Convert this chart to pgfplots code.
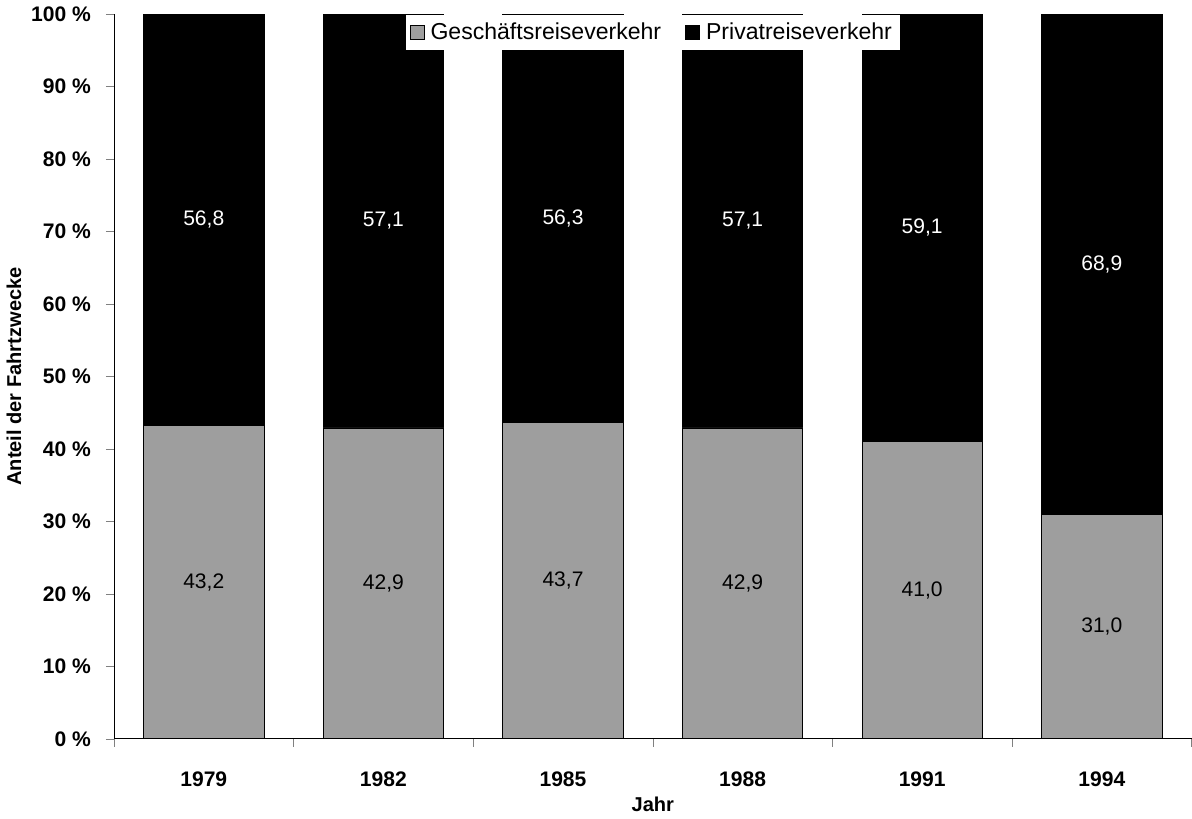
\documentclass[border=0pt]{standalone}
\usepackage{pgfplots}
\pgfplotsset{compat=1.18}
\usepackage{fontspec}
\setmainfont{Liberation Sans}

\definecolor{geschaeft}{gray}{0.62}

\pgfplotsset{
  frame/.style={
    scale only axis,
    width=537.5pt, height=361.5pt,
    xmin=-0.5, xmax=5.5,
    ymin=0, ymax=100,
  }
}

\begin{document}
\begin{tikzpicture}
  \begin{axis}[
      frame,
      ybar stacked,
      bar width=0.67,
      axis x line*=bottom,
      axis y line*=left,
      tick align=outside,
      major tick length=4pt,
      xtick={-0.5,0.5,...,5.5},
      x tick label as interval,
      xticklabels={1979,1982,1985,1988,1991,1994},
      xticklabel style={yshift=-9pt},
      ytick={0,10,...,100},
      yticklabel={\pgfmathprintnumber{\tick}~\%},
      /pgf/number format/assume math mode=true,
      yticklabel style={xshift=-4pt},
      tick label style={font=\fontsize{10.5}{12}\selectfont\bfseries},
      xlabel={Jahr},
      ylabel={Anteil der Fahrtzwecke},
      label style={font=\fontsize{10}{12}\selectfont\bfseries},
      ylabel style={yshift=-2pt},
      xlabel style={yshift=2pt},
      legend image code/.code={\draw[#1] (0pt,-3.5pt) rectangle (7pt,3.5pt);},
      legend columns=2,
      legend style={at={(0.5,1.0)}, anchor=north, draw=none, fill=white,
        font=\fontsize{11.5}{13}\selectfont, inner sep=2pt,
        /tikz/every odd column/.append style={column sep=1pt},
        /tikz/every even column/.append style={column sep=10pt}},
    ]
    \addplot[fill=geschaeft, draw=black, line width=0.4pt]
      coordinates {(0,43.2) (1,42.9) (2,43.7) (3,42.9) (4,41.0) (5,31.0)};
    \addlegendentry{Geschäftsreiseverkehr}
    \addplot[fill=black, draw=black]
      coordinates {(0,56.8) (1,57.1) (2,56.3) (3,57.1) (4,59.1) (5,68.9)};
    \addlegendentry{Privatreiseverkehr}
  \end{axis}
  % value labels, centred in each segment
  \begin{axis}[
      frame,
      hide axis,
      nodes near coords,
      point meta=explicit symbolic,
      every node near coord/.append style={anchor=center, font=\fontsize{10.5}{12}\selectfont},
    ]
    \addplot[only marks, mark=none, nodes near coords style={black}]
      coordinates {(0,21.6) [43,2] (1,21.45) [42,9] (2,21.85) [43,7]
                   (3,21.45) [42,9] (4,20.5) [41,0] (5,15.5) [31,0]};
    \addplot[only marks, mark=none, nodes near coords style={white}]
      coordinates {(0,71.6) [56,8] (1,71.45) [57,1] (2,71.85) [56,3]
                   (3,71.45) [57,1] (4,70.55) [59,1] (5,65.45) [68,9]};
  \end{axis}
\end{tikzpicture}
\end{document}
